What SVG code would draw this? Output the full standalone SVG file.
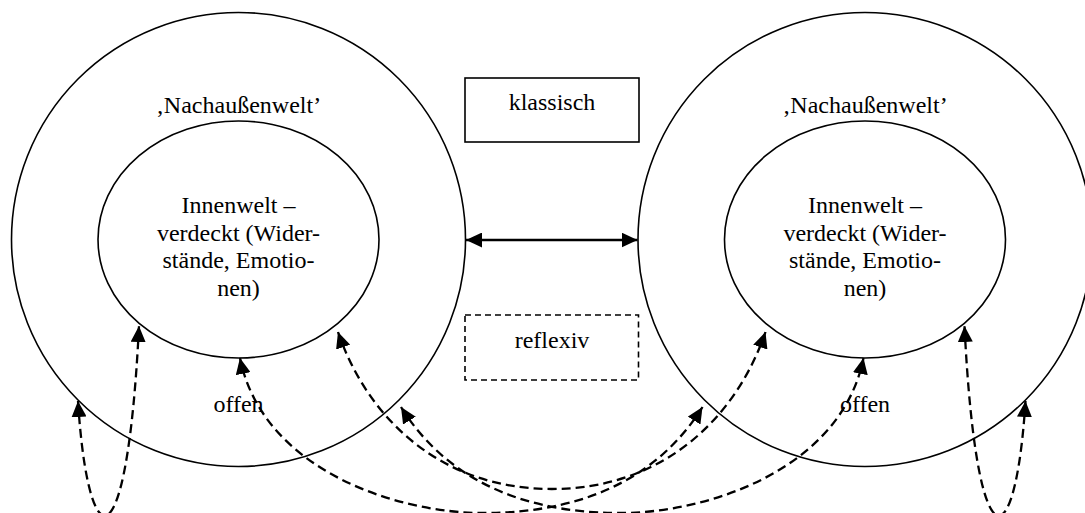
<svg xmlns="http://www.w3.org/2000/svg" width="1085" height="513" viewBox="0 0 1085 513">
  <style>
    .shape { fill: none; stroke: #000; stroke-width: 1.6; }
    .dashbox { fill: none; stroke: #000; stroke-width: 1.6; stroke-dasharray: 6 4; }
    .lbl { font-family: "Liberation Serif", "Times New Roman", serif; font-size: 24px; fill: #000; text-anchor: middle; }
    .solid { fill: none; stroke: #000; stroke-width: 2.6; }
    .dashed { fill: none; stroke: #000; stroke-width: 2.3; stroke-dasharray: 9 5; }
  </style>
  <defs>
    <marker id="head" markerUnits="userSpaceOnUse" markerWidth="17" markerHeight="15" refX="16" refY="7.5" orient="auto-start-reverse" viewBox="0 0 17 15">
      <path d="M0,0 L16,7.5 L0,15 Z" fill="#000"/>
    </marker>
  </defs>
  <rect x="0" y="0" width="1085" height="513" fill="#fff"/>

  <g id="left-outer">
    <circle class="shape" cx="238.5" cy="239.5" r="227"/>
    <text class="lbl" x="238.5" y="113">‚Nachaußenwelt’</text>
    <text class="lbl" x="238.5" y="412">offen</text>
  </g>
  <g id="left-inner">
    <ellipse class="shape" cx="238.5" cy="239.5" rx="140.5" ry="118.5"/>
    <text class="lbl" x="238.5" y="213">Innenwelt –</text>
    <text class="lbl" x="238.5" y="240.7">verdeckt (Wider-</text>
    <text class="lbl" x="238.5" y="268.3">stände, Emotio-</text>
    <text class="lbl" x="238.5" y="296">nen)</text>
  </g>
  <g id="right-outer">
    <circle class="shape" cx="865" cy="239.5" r="227"/>
    <text class="lbl" x="865" y="113">‚Nachaußenwelt’</text>
    <text class="lbl" x="865" y="412">offen</text>
  </g>
  <g id="right-inner">
    <ellipse class="shape" cx="865" cy="239.5" rx="140.5" ry="118.5"/>
    <text class="lbl" x="865" y="213">Innenwelt –</text>
    <text class="lbl" x="865" y="240.7">verdeckt (Wider-</text>
    <text class="lbl" x="865" y="268.3">stände, Emotio-</text>
    <text class="lbl" x="865" y="296">nen)</text>
  </g>
  <g id="klassisch">
    <rect class="shape" x="465" y="78" width="174" height="64"/>
    <text class="lbl" x="552" y="110">klassisch</text>
  </g>
  <g id="reflexiv">
    <rect class="dashbox" x="465" y="315" width="173.5" height="65"/>
    <text class="lbl" x="552" y="348">reflexiv</text>
  </g>

  <g id="connectors">
    <line class="solid" x1="466" y1="240" x2="637.5" y2="240" marker-start="url(#head)" marker-end="url(#head)"/>
    <path class="dashed" d="M78,401 C88,560 127,570 139,326" marker-start="url(#head)" marker-end="url(#head)"/>
    <path class="dashed" d="M1025.5,401 C1015.5,560 976.5,570 964.5,326" marker-start="url(#head)" marker-end="url(#head)"/>
    <path class="dashed" d="M338,332 C368,419.5 441.75,489 551.75,489 C661.75,489 735.5,419.5 765.5,332" marker-start="url(#head)" marker-end="url(#head)"/>
    <path class="dashed" d="M401,407 C438,466.5 505,513 620,513 C710,513 841.5,468 863.5,358" marker-start="url(#head)" marker-end="url(#head)"/>
    <path class="dashed" d="M702.5,407 C665.5,466.5 598.5,513 483.5,513 C393.5,513 262,468 240,358" marker-start="url(#head)" marker-end="url(#head)"/>
  </g>
</svg>
